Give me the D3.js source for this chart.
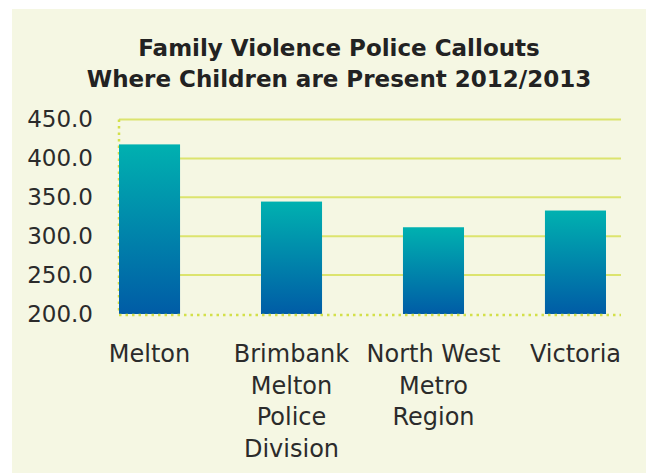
<!DOCTYPE html>
<html>
<head>
<meta charset="utf-8">
<script src="https://cdn.jsdelivr.net/npm/d3@7"></script>
<style>
  html, body { margin: 0; padding: 0; background: #ffffff; }
  svg { display: block; }
</style>
</head>
<body>
<svg id="chart"></svg>
<script>
// chart data
const categories = ["Melton", "Brimbank Melton Police Division", "North West Metro Region", "Victoria"];
const labelLines = [["Melton"], ["Brimbank", "Melton", "Police", "Division"], ["North West", "Metro", "Region"], ["Victoria"]];
const values = [418, 344.5, 311.5, 333];
const tickValues = [200, 250, 300, 350, 400, 450];
const titleLines = ["Family Violence Police Callouts", "Where Children are Present 2012/2013"];

const width = 646, height = 473;
const font = "'DejaVu Sans', sans-serif";

const svg = d3.select("#chart")
    .attr("width", width)
    .attr("height", height);

// gradient for bars
const defs = svg.append("defs");
const grad = defs.append("linearGradient")
    .attr("id", "barGrad")
    .attr("x1", 0).attr("y1", 0).attr("x2", 0).attr("y2", 1);
grad.append("stop").attr("offset", "0%").attr("stop-color", "#00b1b0");
grad.append("stop").attr("offset", "100%").attr("stop-color", "#005ca6");

// background panel
svg.append("rect")
    .attr("x", 12).attr("y", 9)
    .attr("width", width - 12).attr("height", height - 9)
    .attr("fill", "#f5f7e3");

// scales
const x = d3.scaleBand()
    .domain(categories)
    .range([119, 606])
    .paddingInner(0.57)
    .paddingOuter(0);

const y = d3.scaleLinear()
    .domain([200, 450])
    .range([314, 119.5]);

const plotLeft = 119, plotRight = 621;

// gridlines
svg.append("g")
    .selectAll("line")
    .data(tickValues.filter(d => d > 200))
    .enter().append("line")
    .attr("x1", plotLeft)
    .attr("x2", plotRight)
    .attr("y1", d => y(d))
    .attr("y2", d => y(d))
    .attr("stroke", "#dce46e")
    .attr("stroke-width", 2);

// dotted axis lines
svg.append("line")
    .attr("x1", plotLeft).attr("x2", plotLeft)
    .attr("y1", y(450)).attr("y2", y(200))
    .attr("stroke", "#d3e04a")
    .attr("stroke-width", 2.5)
    .attr("stroke-dasharray", "2.5,4");

// bars
svg.selectAll(".bar")
    .data(values)
    .enter().append("rect")
    .attr("class", "bar")
    .attr("x", (d, i) => x(categories[i]))
    .attr("y", d => y(d))
    .attr("width", x.bandwidth())
    .attr("height", d => y(200) - y(d))
    .attr("fill", "url(#barGrad)");

svg.append("line")
    .attr("x1", plotLeft).attr("x2", plotRight)
    .attr("y1", y(200) + 1).attr("y2", y(200) + 1)
    .attr("stroke", "#d3e04a")
    .attr("stroke-width", 2.5)
    .attr("stroke-dasharray", "2.5,4");

// y axis labels
const yAxis = svg.append("g")
    .attr("transform", "translate(" + plotLeft + ",0)")
    .call(d3.axisLeft(y).tickValues(tickValues).tickFormat(d3.format(".1f")).tickSize(0).tickPadding(26));
yAxis.select(".domain").remove();
yAxis.selectAll("text")
    .attr("font-family", font)
    .attr("font-size", 23)
    .attr("fill", "#2b2b2b");

// x labels
const xl = svg.append("g");
labelLines.forEach((lines, i) => {
    const cx = x(categories[i]) + x.bandwidth() / 2;
    const t = xl.append("text")
        .attr("text-anchor", "middle")
        .attr("font-family", font)
        .attr("font-size", 24)
        .attr("fill", "#2b2b2b");
    lines.forEach((s, j) => {
        t.append("tspan")
            .attr("x", cx)
            .attr("y", 362 + j * 31.7)
            .text(s);
    });
});

// title
svg.append("text")
    .attr("text-anchor", "middle")
    .attr("font-family", font)
    .attr("font-weight", "bold")
    .attr("font-size", 23)
    .attr("fill", "#222")
    .selectAll("tspan")
    .data(titleLines)
    .enter().append("tspan")
    .attr("x", 339)
    .attr("y", (d, i) => 56 + i * 31)
    .text(d => d);
</script>
</body>
</html>
